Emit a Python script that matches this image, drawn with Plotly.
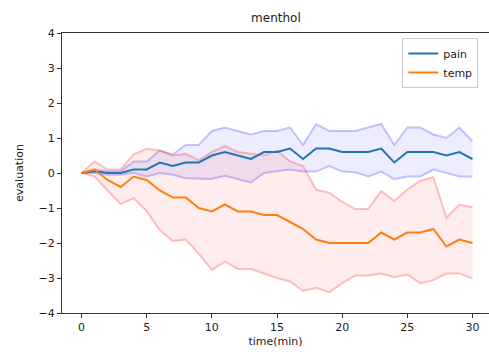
import plotly.graph_objects as go

time = list(range(31))
pain_mean = [0, 0.05, 0, 0, 0.1, 0.1, 0.3, 0.2, 0.3, 0.3, 0.5, 0.6, 0.5, 0.4, 0.6, 0.6,
             0.7, 0.4, 0.7, 0.7, 0.6, 0.6, 0.6, 0.7, 0.3, 0.6, 0.6, 0.6, 0.5, 0.6, 0.4]
pain_upper = [0, 0.1, 0.05, 0.05, 0.33, 0.33, 0.64, 0.53, 0.8, 0.8, 1.2, 1.3, 1.2, 1.1, 1.2, 1.2,
              1.3, 0.8, 1.4, 1.2, 1.2, 1.2, 1.3, 1.4, 0.8, 1.3, 1.3, 1.1, 1.0, 1.3, 0.9]
pain_lower = [0, 0, -0.05, -0.05, 0, -0.1, 0, -0.05, -0.15, -0.17, -0.17, -0.08, -0.17, -0.27, 0, 0.04,
              0.1, 0.04, 0.04, 0.2, 0.04, 0.02, -0.1, 0.04, -0.18, -0.1, -0.1, 0.1, 0, -0.1, -0.1]
temp_mean = [0, 0.1, -0.2, -0.4, -0.1, -0.2, -0.5, -0.7, -0.7, -1.0, -1.1, -0.9, -1.1, -1.1, -1.2, -1.2,
             -1.4, -1.6, -1.9, -2.0, -2.0, -2.0, -2.0, -1.7, -1.9, -1.7, -1.7, -1.6, -2.1, -1.9, -2.0]
temp_upper = [0, 0.33, 0.1, 0.1, 0.53, 0.69, 0.64, 0.5, 0.55, 0.37, 0.6, 0.77, 0.6, 0.56, 0.5, 0.64,
              0.33, 0.2, -0.48, -0.56, -0.82, -1.03, -1.03, -0.51, -0.8, -0.47, -0.22, -0.12, -1.28, -0.9, -0.98]
temp_lower = [0, -0.1, -0.5, -0.89, -0.72, -1.09, -1.63, -1.94, -1.9, -2.31, -2.77, -2.53, -2.74, -2.74, -2.87, -3.0,
              -3.1, -3.37, -3.28, -3.41, -3.15, -2.93, -2.93, -2.87, -2.98, -2.9, -3.15, -3.06, -2.87, -2.87, -3.01]

x_ticks = [0, 5, 10, 15, 20, 25, 30]
y_ticks = [-4, -3, -2, -1, 0, 1, 2, 3, 4]

fig = go.Figure()

band_line_blue = "rgba(0,0,255,0.22)"
band_fill_blue = "rgba(0,0,255,0.07)"
band_line_red = "rgba(255,0,0,0.24)"
band_fill_red = "rgba(255,0,0,0.07)"

fig.add_trace(go.Scatter(x=time, y=pain_lower, mode="lines", line=dict(color=band_line_blue, width=2),
                         showlegend=False, hoverinfo="skip"))
fig.add_trace(go.Scatter(x=time, y=pain_upper, mode="lines", line=dict(color=band_line_blue, width=2),
                         fill="tonexty", fillcolor=band_fill_blue, showlegend=False, hoverinfo="skip"))
fig.add_trace(go.Scatter(x=time, y=temp_lower, mode="lines", line=dict(color=band_line_red, width=2),
                         showlegend=False, hoverinfo="skip"))
fig.add_trace(go.Scatter(x=time, y=temp_upper, mode="lines", line=dict(color=band_line_red, width=2),
                         fill="tonexty", fillcolor=band_fill_red, showlegend=False, hoverinfo="skip"))
fig.add_trace(go.Scatter(x=time, y=pain_mean, mode="lines", name="pain",
                         line=dict(color="#1f77b4", width=2)))
fig.add_trace(go.Scatter(x=time, y=temp_mean, mode="lines", name="temp",
                         line=dict(color="#ff7f0e", width=2)))

axis_common = dict(showgrid=False, zeroline=False, showline=True, linecolor="#333333", linewidth=1,
                   mirror=True, ticks="outside", ticklen=4, tickcolor="#333333",
                   tickfont=dict(family="DejaVu Sans", size=11, color="#222222"))

fig.update_layout(
    width=489, height=352,
    margin=dict(l=62, r=0, t=33, b=39),
    paper_bgcolor="white", plot_bgcolor="white",
    font=dict(family="DejaVu Sans", size=11, color="#222222"),
    title=dict(text="menthol", x=0.501, xref="paper", xanchor="center", y=1 - 18 / 352, yanchor="middle",
               font=dict(family="DejaVu Sans", size=12, color="#222222")),
    xaxis=dict(range=[-1.5, 31.27], tickvals=x_ticks, title=dict(text="time(min)", standoff=4,
               font=dict(size=11)), **axis_common),
    yaxis=dict(range=[-4, 4], tickvals=y_ticks, title=dict(text="evaluation", standoff=12,
               font=dict(size=11)), **axis_common),
    legend=dict(x=0.975, y=0.982, xanchor="right", yanchor="top", bordercolor="#cccccc", borderwidth=1,
                traceorder="normal", bgcolor="rgba(255,255,255,0.8)", font=dict(size=11),
                tracegroupgap=2),
)

fig.write_html("out.html")
